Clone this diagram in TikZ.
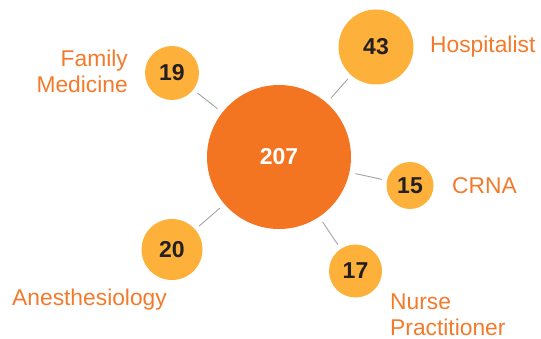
\documentclass[tikz,border=0pt]{standalone}
\usepackage{fontspec}
\setmainfont{Liberation Sans}
\definecolor{bigor}{HTML}{F47521}
\definecolor{smallor}{HTML}{FDB13B}
\definecolor{labor}{HTML}{F47A2B}
\definecolor{numtxt}{HTML}{231F20}
\definecolor{linegray}{HTML}{A3A3A3}
\begin{document}
\begin{tikzpicture}[x=1pt,y=-1pt,
  hub/.style={circle,fill=bigor,inner sep=0pt,minimum size=144pt,text=white,font=\fontsize{23}{25}\selectfont\bfseries},
  spoke/.style={circle,fill=smallor,inner sep=0pt,text=numtxt,font=\fontsize{23}{25}\selectfont\bfseries},
  lab/.style={text=labor,inner sep=0pt,font=\fontsize{22.8}{25.5}\selectfont},
  conn/.style={draw=linegray,line width=0.9pt,shorten <=6pt,shorten >=5pt}]
\useasboundingbox (0,0) rectangle (541,339);
\node[hub] (c) at (279,157) {207};
\node[spoke,minimum size=54pt] (fm) at (172,73) {19};
\node[spoke,minimum size=75pt] (ho) at (376,47) {43};
\node[spoke,minimum size=47pt] (cr) at (410,185.5) {15};
\node[spoke,minimum size=53pt] (np) at (355.5,271) {17};
\node[spoke,minimum size=61pt] (an) at (172,249.5) {20};
\draw[conn] (c) -- (fm);
\draw[conn] (c) -- (ho);
\draw[conn] (c) -- (cr);
\draw[conn] (c) -- (np);
\draw[conn] (c) -- (an);
\node[lab,align=right,anchor=east] (lfm) at (128,71.5) {Family\\Medicine};
\node[lab,anchor=west] (lho) at (430,47) {Hospitalist};
\node[lab,anchor=west] (lcr) at (452,186) {CRNA};
\node[lab,align=left,anchor=west] (lnp) at (390,315) {Nurse\\Practitioner};
\node[lab,anchor=west] (lan) at (12,300) {Anesthesiology};
\end{tikzpicture}
\end{document}
